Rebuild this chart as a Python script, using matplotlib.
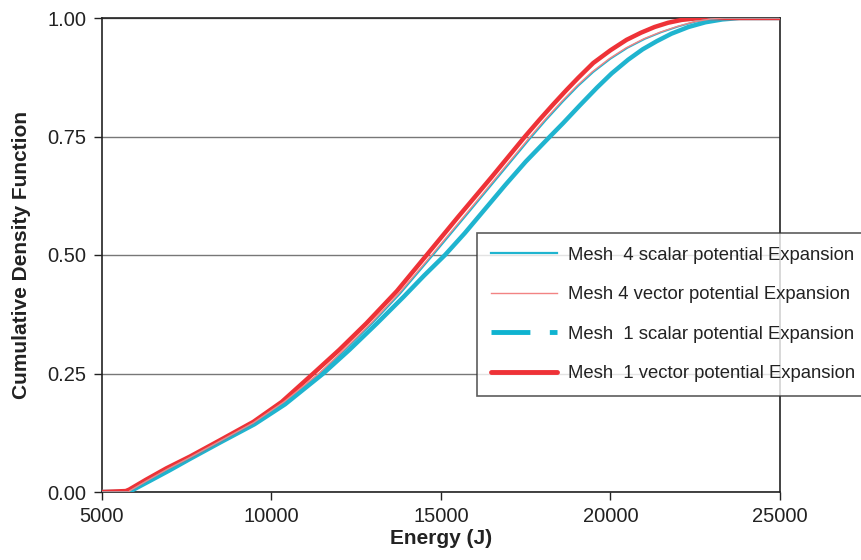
import matplotlib
matplotlib.use("Agg")
import matplotlib.pyplot as plt
from matplotlib.lines import Line2D

plt.rcParams['font.family'] = ['Liberation Sans', 'DejaVu Sans']

# Mesh 1 vector potential (thick red)
e_m1_vec = [5000, 5700, 5800, 6300, 6900, 7600, 8500, 9464, 10300, 11233, 12000, 12800, 13700,
            14578, 15500, 16500, 17478, 17900, 18300, 18700, 19050, 19490, 20000, 20475,
            20900, 21300, 21700, 22100, 22500, 22800, 25000]
cdf_m1_vec = [0, 0.002, 0.005, 0.026, 0.05, 0.075, 0.11, 0.148, 0.19, 0.25, 0.30, 0.356, 0.424,
              0.50, 0.58, 0.665, 0.75, 0.785, 0.817, 0.848, 0.874, 0.905, 0.932, 0.954,
              0.969, 0.981, 0.99, 0.996, 0.999, 1.0, 1.0]

# Mesh 4 scalar potential (thin cyan)
e_m4_sca = [5000, 5800, 5850, 6350, 6950, 7600, 8500, 9500, 10400, 11430, 12200, 13000, 13800,
            14764, 15700, 16700, 17676, 18100, 18600, 19050, 19493, 20000, 20500, 21018,
            21500, 22000, 22500, 23000, 23400, 25000]
cdf_m4_sca = [0, 0, 0.003, 0.024, 0.048, 0.072, 0.107, 0.146, 0.19, 0.25, 0.302, 0.358, 0.419,
              0.50, 0.58, 0.666, 0.75, 0.785, 0.824, 0.857, 0.886, 0.914, 0.937, 0.956,
              0.970, 0.982, 0.992, 0.998, 1.0, 1.0]

# Mesh 4 vector potential (thin red), a hair left of the scalar one
e_m4_vec = [5000, 5780, 5830, 6330, 6925, 7570, 8470, 9465, 10365, 11395, 12165, 12960, 13760,
            14725, 15660, 16660, 17636, 18060, 18560, 19010, 19453, 19960, 20460, 20978,
            21460, 21960, 22460, 22960, 23360, 25000]
cdf_m4_vec = [0, 0, 0.003, 0.024, 0.048, 0.072, 0.107, 0.146, 0.19, 0.25, 0.302, 0.358, 0.419,
              0.50, 0.58, 0.666, 0.75, 0.785, 0.824, 0.857, 0.886, 0.914, 0.937, 0.956,
              0.970, 0.982, 0.992, 0.998, 1.0, 1.0]

# Mesh 1 scalar potential (thick cyan)
e_m1_sca = [5000, 5800, 5900, 6400, 7000, 7600, 8500, 9500, 10400, 11528, 12300, 13100, 13900,
            14500, 15118, 15700, 16300, 16900, 17500, 18215, 18600, 19100, 19600, 20033,
            20520, 20950, 21363, 21800, 22300, 22800, 23300, 23800, 25000]
cdf_m1_sca = [0, 0, 0.004, 0.023, 0.046, 0.07, 0.105, 0.143, 0.185, 0.25, 0.30, 0.355, 0.412,
              0.4565, 0.50, 0.546, 0.597, 0.648, 0.697, 0.75, 0.778, 0.816, 0.853, 0.883,
              0.912, 0.934, 0.951, 0.967, 0.981, 0.991, 0.997, 1.0, 1.0]

labels = ["Mesh  4 scalar potential Expansion",
          "Mesh 4 vector potential Expansion",
          "Mesh  1 scalar potential Expansion",
          "Mesh  1 vector potential Expansion"]

CYAN = "#1fb4cf"
RED = "#ee3237"
PINK = "#f28383"

fig = plt.figure(figsize=(8.62, 5.6), dpi=100)
ax = fig.add_axes([102 / 862, 68 / 560, 678 / 862, 474 / 560])

ax.plot(e_m1_sca, cdf_m1_sca, color=CYAN, lw=3.2, solid_joinstyle='round', zorder=3)
ax.plot(e_m1_vec, cdf_m1_vec, color=RED, lw=3.2, solid_joinstyle='round', zorder=4)
ax.plot(e_m4_sca, cdf_m4_sca, color=CYAN, lw=1.3, zorder=5)
ax.plot(e_m4_vec, cdf_m4_vec, color=PINK, lw=1.0, zorder=5)

ax.set_xlim(5000, 25000)
ax.set_ylim(0, 1)
ax.set_xticks([5000, 10000, 15000, 20000, 25000])
ax.set_yticks([0, 0.25, 0.5, 0.75, 1.0])
ax.set_yticklabels(["0.00", "0.25", "0.50", "0.75", "1.00"])
ax.tick_params(labelsize=14.5, direction='out', length=6, width=1, colors='#222222', pad=5)
ax.yaxis.grid(True, color='#777777', lw=1)
ax.set_axisbelow(True)
for s in ax.spines.values():
    s.set_color('#222222')
    s.set_linewidth(1.2)

ax.set_xlabel("Energy (J)", fontsize=15, fontweight='bold', color='#222222', labelpad=2)
ax.set_ylabel("Cumulative Density Function", fontsize=15, fontweight='bold',
              color='#222222', labelpad=12)

handles = [
    Line2D([], [], color=CYAN, lw=1.6),
    Line2D([], [], color=PINK, lw=1.0),
    Line2D([], [], color="#0fb3d0", lw=3.5, dashes=(8, 4, 2, 4)),
    Line2D([], [], color=RED, lw=3.5, solid_capstyle='round'),
]
leg = fig.legend(handles, labels, loc='upper left', bbox_to_anchor=(477 / 862, 1 - 233 / 560),
                 fontsize=13.3, handlelength=3.6, labelspacing=1.22, borderpad=0.75,
                 handletextpad=0.6, frameon=True, fancybox=False, borderaxespad=0)
leg.get_frame().set_edgecolor('#333333')
leg.get_frame().set_linewidth(1.2)
for t in leg.get_texts():
    t.set_color('#222222')

fig.savefig("out.png", dpi=100)
